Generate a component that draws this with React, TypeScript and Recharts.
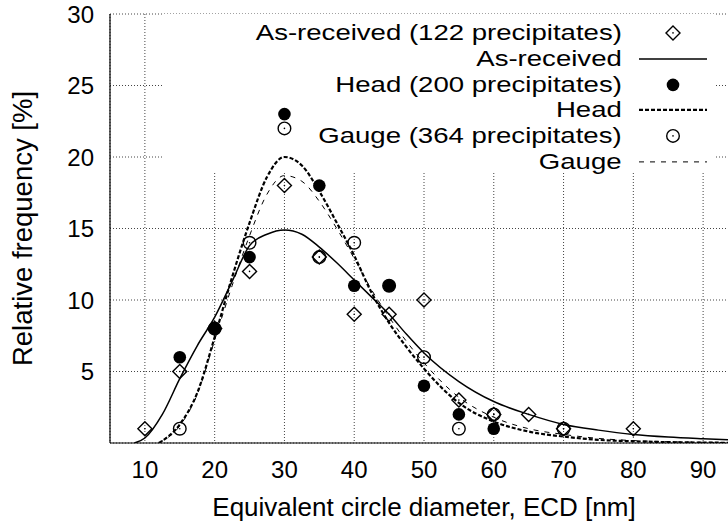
import { ComposedChart, Line, Scatter, XAxis, YAxis, CartesianGrid, ReferenceArea, Legend } from 'recharts';

const FONT = '"Liberation Sans", Arial, Helvetica, sans-serif';

const xTicks = [10, 20, 30, 40, 50, 60, 70, 80, 90];
const yTicks = [5, 10, 15, 20, 25, 30];

// measured frequencies [ECD nm, %]
const asReceivedPoints: [number, number][] = [
  [10, 1], [15, 5], [20, 8], [25, 12], [30, 18], [35, 13], [40, 9],
  [45, 9], [50, 10], [55, 3], [60, 2], [65, 2], [70, 1], [80, 1],
];
const headPoints: [number, number][] = [
  [15, 6], [20, 8], [25, 13], [30, 23], [35, 18], [40, 11], [45, 11], [50, 4], [55, 2], [60, 1],
];
const gaugePoints: [number, number][] = [
  [15, 1], [20, 8], [25, 14], [30, 22], [35, 13], [40, 14], [45, 11], [50, 6], [55, 1], [60, 2], [70, 1],
];

// fitted curves
const asReceivedFit: [number, number][] = [
  [8.5, 0], [10, 0.35], [12.5, 2.0], [15, 4.5], [17.5, 6.8], [20, 8.8], [22.5, 11.3], [25, 13.8],
  [27.5, 14.6], [30, 14.9], [32.5, 14.6], [35, 13.7], [37.5, 12.6], [40, 11.4], [42.5, 10.2],
  [45, 9.0], [47.5, 7.6], [50, 6.3], [55, 4.3], [60, 2.9], [65, 2.0], [70, 1.3], [75, 0.9],
  [80, 0.6], [85, 0.42], [90, 0.3], [95, 0.2],
];
const headFit: [number, number][] = [
  [12, 0], [15, 1.3], [17.5, 3.5], [20, 7.4], [22.5, 11.6], [25, 15.4], [27.5, 18.6], [30, 20.0],
  [32.5, 19.4], [35, 17.6], [37.5, 15.4], [40, 13.1], [42.5, 10.5], [45, 8.4], [47.5, 6.7],
  [50, 5.2], [55, 2.8], [60, 1.5], [65, 0.8], [70, 0.45], [75, 0.22], [80, 0.12], [85, 0.06],
  [90, 0.03], [95, 0.01],
];
const gaugeFit: [number, number][] = [
  [12, 0], [15, 1.2], [17.5, 3.4], [20, 7.2], [22.5, 11.0], [25, 14.5], [27.5, 17.4], [30, 18.7],
  [32.5, 18.3], [35, 16.9], [37.5, 15.0], [40, 12.9], [42.5, 10.7], [45, 8.8], [47.5, 7.1],
  [50, 5.6], [55, 3.2], [60, 1.8], [65, 1.0], [70, 0.6], [75, 0.32], [80, 0.17], [85, 0.09],
  [90, 0.05], [95, 0.02],
];

const legendRows = [
  { label: 'As-received (122 precipitates)', kind: 'diamond' },
  { label: 'As-received', kind: 'solid' },
  { label: 'Head (200 precipitates)', kind: 'filled' },
  { label: 'Head', kind: 'thickDash' },
  { label: 'Gauge (364 precipitates)', kind: 'open' },
  { label: 'Gauge', kind: 'thinDash' },
];

const toXY = (arr: [number, number][]) => arr.map(([x, y]) => ({ x, y }));

function Diamond(props: any) {
  const { cx, cy } = props;
  const r = 7;
  return (
    <g>
      <path d={`M${cx},${cy - r}L${cx + r},${cy}L${cx},${cy + r}L${cx - r},${cy}Z`} fill="none" stroke="#000" strokeWidth={1.4} />
      <circle cx={cx} cy={cy} r={0.8} fill="#000" />
    </g>
  );
}

function FilledDot(props: any) {
  return <circle cx={props.cx} cy={props.cy} r={6.3} fill="#000" />;
}

function OpenDot(props: any) {
  return (
    <g>
      <circle cx={props.cx} cy={props.cy} r={6.3} fill="none" stroke="#000" strokeWidth={1.4} />
      <circle cx={props.cx} cy={props.cy} r={0.8} fill="#000" />
    </g>
  );
}

function LegendSymbol({ kind }: { kind: string }) {
  const cy = 12.9;
  const cx = 51;
  if (kind === 'diamond') return <Diamond cx={cx} cy={cy} />;
  if (kind === 'filled') return <FilledDot cx={cx} cy={cy} />;
  if (kind === 'open') return <OpenDot cx={cx} cy={cy} />;
  const dash = kind === 'thickDash' ? '4 2' : kind === 'thinDash' ? '5 6' : undefined;
  const sw = kind === 'thickDash' ? 2.2 : kind === 'thinDash' ? 1 : 1.5;
  return <line x1={17} x2={85} y1={cy} y2={cy} stroke="#000" strokeWidth={sw} strokeDasharray={dash} />;
}

function LegendBox() {
  // the original key text is wide for its height, so stretch it a little
  return (
    <div style={{ fontFamily: FONT, fontSize: 22.5, color: '#000' }}>
      {legendRows.map((r) => (
        <div key={r.label + r.kind} style={{ display: 'flex', height: 25.8 }}>
          <span style={{ width: 622, textAlign: 'right', lineHeight: '25.8px', whiteSpace: 'nowrap' }}>
            <span style={{ display: 'inline-block', transform: 'scaleX(1.225)', transformOrigin: 'right center' }}>{r.label}</span>
          </span>
          <svg width={100} height={25.8} style={{ display: 'block' }}>
            <LegendSymbol kind={r.kind} />
          </svg>
        </div>
      ))}
    </div>
  );
}

export default function App() {
  const tickStyle = { fontSize: 24, fill: '#000', fontFamily: FONT };
  return (
    <div style={{ position: 'absolute', left: 0, top: 0, width: 728, height: 525, overflow: 'hidden', background: '#fff' }}>
      <ComposedChart width={760} height={525} margin={{ top: 14, right: 22, bottom: 0, left: 0 }} style={{ fontFamily: FONT }}>
        <CartesianGrid stroke="#444" strokeDasharray="1 2" />
        <ReferenceArea x1={12.6} x2={91.7} y1={18.9} y2={30} fill="#fff" fillOpacity={1} stroke="none" />
        <XAxis xAxisId="top" orientation="top" mirror height={0} type="number" dataKey="x" domain={[5, 95]}
          ticks={xTicks} tickSize={6} tickFormatter={() => ''} axisLine={{ stroke: '#000', strokeWidth: 1.2 }} tickLine={{ stroke: '#000' }} />
        <XAxis xAxisId="inner" orientation="bottom" mirror height={0} type="number" dataKey="x" domain={[5, 95]}
          ticks={xTicks} tickSize={6} tickFormatter={() => ''} axisLine={false} tickLine={{ stroke: '#000' }} />
        <XAxis type="number" dataKey="x" domain={[5, 95]} ticks={xTicks} allowDataOverflow height={82}
          tick={tickStyle} tickLine={false} tickSize={6} tickMargin={12}
          axisLine={{ stroke: '#000', strokeWidth: 1.2 }}
          label={{ value: 'Equivalent circle diameter, ECD [nm]', position: 'insideBottom', offset: 9, fontSize: 26, fill: '#000', fontFamily: FONT }} />
        <YAxis type="number" dataKey="y" domain={[0, 30]} ticks={yTicks} allowDataOverflow width={110}
          tick={tickStyle} tickLine={false} tickSize={6} tickMargin={10}
          axisLine={{ stroke: '#000', strokeWidth: 1.2 }}
          label={{ value: 'Relative frequency [%]', angle: -90, position: 'center', dx: -33, fontSize: 27.5, fill: '#000', fontFamily: FONT }} />
        <Legend layout="vertical" align="center" verticalAlign="middle" content={() => <LegendBox />}
          wrapperStyle={{ position: 'absolute', left: 0, top: 20, width: 728, height: 160 }} />
        <Line data={toXY(asReceivedFit)} dataKey="y" type="monotone" stroke="#000" strokeWidth={1.5} dot={false} activeDot={false} isAnimationActive={false} legendType="none" />
        <Line data={toXY(headFit)} dataKey="y" type="monotone" stroke="#000" strokeWidth={2.2} strokeDasharray="4 2" dot={false} activeDot={false} isAnimationActive={false} legendType="none" />
        <Line data={toXY(gaugeFit)} dataKey="y" type="monotone" stroke="#000" strokeWidth={1} strokeDasharray="5 6" dot={false} activeDot={false} isAnimationActive={false} legendType="none" />
        <Scatter data={toXY(asReceivedPoints)} dataKey="y" shape={<Diamond />} isAnimationActive={false} legendType="none" />
        <Scatter data={toXY(headPoints)} dataKey="y" shape={<FilledDot />} isAnimationActive={false} legendType="none" />
        <Scatter data={toXY(gaugePoints)} dataKey="y" shape={<OpenDot />} isAnimationActive={false} legendType="none" />
      </ComposedChart>
    </div>
  );
}
